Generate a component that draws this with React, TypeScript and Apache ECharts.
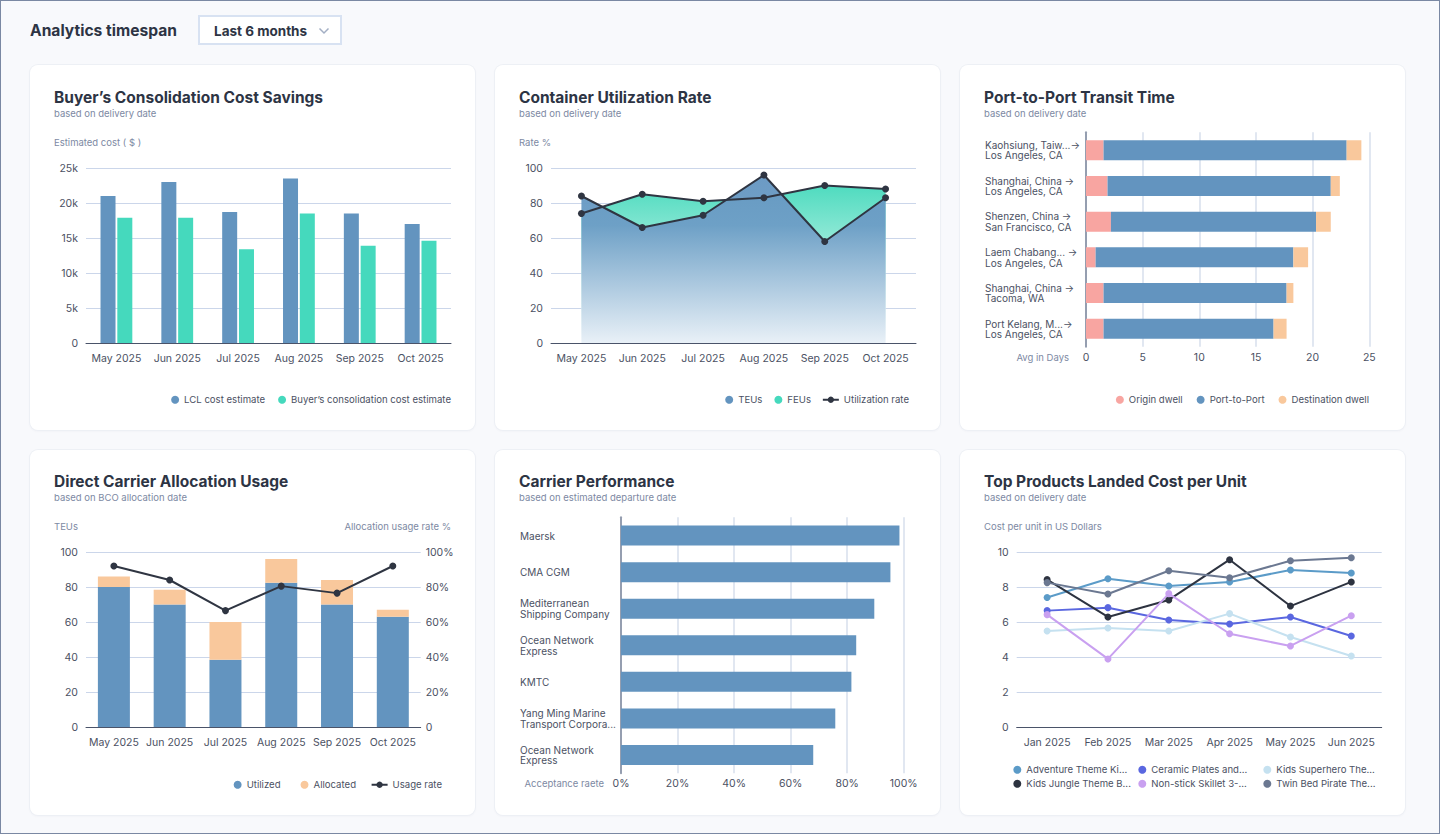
import React, { useEffect, useRef } from "react";
import * as echarts from "echarts";

const FONT = "Inter, 'Noto Sans', sans-serif";
const BLUE = "#6394bf";
const TEAL = "#45d9bd";
const PEACH = "#f9c89c";
const PINK = "#f8a5a1";
const DARK = "#2f3542";
const TITLE_C = "#2d3444";
const SUB_C = "#7d89a3";
const LABEL_C = "#4b5163";
const SPLIT_C = "#cbd6ea";
const AXIS_C = "#4a5369";
const VGRID_C = "#e1e7f1";
const CAT_AXIS_C = "#959eb0";

// Card 1
const months6 = ["May 2025", "Jun 2025", "Jul 2025", "Aug 2025", "Sep 2025", "Oct 2025"];
const lclCost = [21000, 23000, 18700, 23500, 18500, 17000];
const buyerCost = [17900, 17900, 13400, 18500, 13900, 14600];

// Card 2
const teuRate = [84, 66, 73, 96, 58, 83];
const feuRate = [74, 85, 81, 83, 90, 88];

// Card 3
const routes = [
  "Kaohsiung, Taiw...→\nLos Angeles, CA",
  "Shanghai, China →\nLos Angeles, CA",
  "Shenzen, China →\nSan Francisco, CA",
  "Laem Chabang... →\nLos Angeles, CA",
  "Shanghai, China →\nTacoma, WA",
  "Port Kelang, M...→\nLos Angeles, CA",
];
const originDwell = [1.55, 1.9, 2.2, 0.85, 1.55, 1.55];
const portToPort = [21.45, 19.7, 18.1, 17.45, 16.15, 15.0];
const destDwell = [1.3, 0.8, 1.3, 1.3, 0.6, 1.15];

// Card 4
const utilized = [80, 70, 38.5, 82.5, 70, 63];
const allocated = [6, 8.5, 21.5, 13.5, 14, 4];
const usageRate = [92, 84, 66.5, 80.5, 76.5, 92];

// Card 5
const carriers = [
  "Maersk",
  "CMA CGM",
  "Mediterranean\nShipping Company",
  "Ocean Network\nExpress",
  "KMTC",
  "Yang Ming Marine\nTransport Corpora...",
  "Ocean Network\nExpress",
];
const acceptance = [98.5, 95.3, 89.6, 83.2, 81.5, 75.8, 68.0];

// Card 6
const monthsH1 = ["Jan 2025", "Feb 2025", "Mar 2025", "Apr 2025", "May 2025", "Jun 2025"];
const productNames = [
  "Adventure Theme Ki...",
  "Ceramic Plates and...",
  "Kids Superhero The...",
  "Kids Jungle Theme B...",
  "Non-stick Skillet 3-...",
  "Twin Bed Pirate The...",
];
const productColors = ["#5b9bc8", "#5a67e0", "#c5e1f0", "#2d3340", "#c9a0f0", "#6b7891"];
const adventureCost = [7.4, 8.47, 8.06, 8.29, 8.97, 8.8];
const ceramicCost = [6.65, 6.82, 6.11, 5.89, 6.29, 5.2];
const superheroCost = [5.49, 5.66, 5.49, 6.48, 5.14, 4.06];
const jungleCost = [8.42, 6.29, 7.26, 9.56, 6.91, 8.29];
const skilletCost = [6.42, 3.89, 7.62, 5.33, 4.63, 6.36];
const pirateCost = [8.25, 7.6, 8.93, 8.53, 9.5, 9.67];
const productCosts = [adventureCost, ceramicCost, superheroCost, jungleCost, skilletCost, pirateCost];

const TITLE_SIZE = 15.5;
const SUB_SIZE = 9.5;
const LBL_SIZE = 10.5;
const LEG_SIZE = 9.6;

const heads = (t: string, s: string, dy: number, extra: any[] = []) => [
  {
    text: t, left: 24, top: 22 + dy, padding: 0,
    textStyle: { fontFamily: FONT, fontSize: TITLE_SIZE, fontWeight: 700, color: TITLE_C, lineHeight: 20 },
  },
  {
    text: s, left: 24, top: 42.7 + dy, padding: 0,
    textStyle: { fontFamily: FONT, fontSize: SUB_SIZE, fontWeight: 400, color: SUB_C, lineHeight: 12 },
  },
  ...extra,
];

const caption = (text: string, pos: any) => ({
  text, padding: 0, ...pos,
  textStyle: { fontFamily: FONT, fontSize: SUB_SIZE, fontWeight: 400, color: SUB_C, lineHeight: 12 },
});

const legendText = { fontFamily: FONT, fontSize: LEG_SIZE, color: LABEL_C, lineHeight: 12 };
const axisLabel = { color: LABEL_C, fontSize: LBL_SIZE, fontFamily: FONT };

const opt1 = {
  animation: false,
  textStyle: { fontFamily: FONT },
  title: heads("Buyer’s Consolidation Cost Savings", "based on delivery date", 0, [
    caption("Estimated cost ( $ )", { left: 24, top: 71.7 }),
  ]),
  grid: { left: 56, right: 24, top: 103, bottom: 87 },
  legend: {
    right: 24, top: 328.7, padding: 0, itemWidth: 8, itemHeight: 8, itemGap: 13, icon: "circle",
    textStyle: legendText,
    data: ["LCL cost estimate", "Buyer’s consolidation cost estimate"],
  },
  xAxis: {
    type: "category", data: months6,
    axisLine: { lineStyle: { color: AXIS_C } }, axisTick: { show: false },
    axisLabel: { ...axisLabel, margin: 10, interval: 0 },
  },
  yAxis: {
    type: "value", min: 0, max: 25000, interval: 5000,
    axisLabel: { ...axisLabel, margin: 8, formatter: (v: number) => (v === 0 ? "0" : v / 1000 + "k") },
    splitLine: { lineStyle: { color: SPLIT_C } },
  },
  series: [
    { type: "bar", name: "LCL cost estimate", data: lclCost, barWidth: 15, barGap: "12%", itemStyle: { color: BLUE } },
    { type: "bar", name: "Buyer’s consolidation cost estimate", data: buyerCost, barWidth: 15, itemStyle: { color: TEAL } },
  ],
};

const opt2 = {
  animation: false,
  textStyle: { fontFamily: FONT },
  title: heads("Container Utilization Rate", "based on delivery date", 0, [caption("Rate %", { left: 24, top: 71.7 })]),
  grid: { left: 56, right: 24, top: 103, bottom: 87 },
  legend: [
    {
      right: 129, top: 328.7, padding: 0, itemWidth: 8, itemHeight: 8, itemGap: 12, icon: "circle",
      textStyle: legendText,
      data: [
        { name: "TEUs", itemStyle: { color: BLUE } },
        { name: "FEUs", itemStyle: { color: TEAL } },
      ],
    },
    {
      right: 31, top: 328.7, padding: 0, itemWidth: 16, itemHeight: 8,
      textStyle: legendText, data: ["Utilization rate"],
    },
  ],
  xAxis: {
    type: "category", data: months6, boundaryGap: true,
    axisLine: { lineStyle: { color: AXIS_C } }, axisTick: { show: false },
    axisLabel: { ...axisLabel, margin: 10, interval: 0 },
  },
  yAxis: {
    type: "value", min: 0, max: 100, interval: 20,
    axisLabel: { ...axisLabel, margin: 8 },
    splitLine: { lineStyle: { color: SPLIT_C } },
  },
  series: [
    {
      type: "line", name: "FEUs", data: feuRate, z: 1, showSymbol: false,
      itemStyle: { color: TEAL }, lineStyle: { width: 0 },
      areaStyle: {
        opacity: 1,
        color: new echarts.graphic.LinearGradient(0, 0, 0, 1, [
          { offset: 0, color: "#4fdbbf" },
          { offset: 0.6, color: "#c2f3e8" },
          { offset: 1, color: "#ffffff" },
        ]),
      },
    },
    {
      type: "line", name: "TEUs", data: teuRate, z: 2, showSymbol: false,
      itemStyle: { color: BLUE }, lineStyle: { width: 0 },
      areaStyle: {
        opacity: 0.97,
        color: new echarts.graphic.LinearGradient(0, 0, 0, 1, [
          { offset: 0, color: "#6797c2" },
          { offset: 0.3, color: "#6d9ec6" },
          { offset: 1, color: "#e8f0f7" },
        ]),
      },
    },
    {
      type: "line", name: "Utilization rate", data: teuRate, z: 3, symbol: "circle", symbolSize: 7,
      itemStyle: { color: DARK }, lineStyle: { color: DARK, width: 2 },
    },
    {
      type: "line", name: "Utilization rate", data: feuRate, z: 3, symbol: "circle", symbolSize: 7,
      itemStyle: { color: DARK }, lineStyle: { color: DARK, width: 2 },
    },
  ],
};

const opt3 = {
  animation: false,
  textStyle: { fontFamily: FONT },
  title: heads("Port-to-Port Transit Time", "based on delivery date", 0, [
    caption("Avg in Days", { right: 336, top: 286.7 }),
  ]),
  grid: { left: 126, right: 35.7, top: 67.3, bottom: 83.3 },
  legend: {
    right: 36, top: 328.7, padding: 0, itemWidth: 8, itemHeight: 8, itemGap: 14, icon: "circle",
    textStyle: legendText,
    data: ["Origin dwell", "Port-to-Port", "Destination dwell"],
  },
  xAxis: {
    type: "value", min: 0, max: 25, interval: 5,
    axisLine: { show: false }, axisTick: { show: false },
    axisLabel: { ...axisLabel, margin: 5 },
    splitLine: { lineStyle: { color: VGRID_C, width: 2 } },
  },
  yAxis: {
    type: "category", data: routes, inverse: true,
    axisLine: { lineStyle: { color: CAT_AXIS_C, width: 2 } }, axisTick: { show: false },
    axisLabel: { color: LABEL_C, fontSize: 10, fontFamily: FONT, lineHeight: 10.5, align: "left", margin: 101, interval: 0 },
  },
  series: [
    { type: "bar", name: "Origin dwell", stack: "t", data: originDwell, barWidth: 20, itemStyle: { color: PINK } },
    { type: "bar", name: "Port-to-Port", stack: "t", data: portToPort, barWidth: 20, itemStyle: { color: BLUE } },
    { type: "bar", name: "Destination dwell", stack: "t", data: destDwell, barWidth: 20, itemStyle: { color: PEACH } },
  ],
};

const opt4 = {
  animation: false,
  textStyle: { fontFamily: FONT },
  title: heads("Direct Carrier Allocation Usage", "based on BCO allocation date", -1, [
    caption("TEUs", { left: 24, top: 70.7 }),
    caption("Allocation usage rate %", { right: 24, top: 70.7 }),
  ]),
  grid: { left: 56, right: 54.3, top: 102, bottom: 88 },
  legend: [
    {
      right: 119, top: 328.7, padding: 0, itemWidth: 8, itemHeight: 8, itemGap: 20, icon: "circle",
      textStyle: legendText, data: ["Utilized", "Allocated"],
    },
    {
      right: 33, top: 328.7, padding: 0, itemWidth: 16, itemHeight: 8,
      textStyle: legendText, data: ["Usage rate"],
    },
  ],
  xAxis: {
    type: "category", data: months6,
    axisLine: { lineStyle: { color: AXIS_C } }, axisTick: { show: false },
    axisLabel: { ...axisLabel, margin: 10, interval: 0 },
  },
  yAxis: [
    {
      type: "value", min: 0, max: 100, interval: 20,
      axisLabel: { ...axisLabel, margin: 8 },
      splitLine: { lineStyle: { color: SPLIT_C } },
    },
    {
      type: "value", min: 0, max: 100, interval: 20, position: "right",
      axisLabel: { ...axisLabel, margin: 5, formatter: (v: number) => (v === 0 ? "0" : v + "%") },
      splitLine: { show: false }, axisLine: { show: false }, axisTick: { show: false },
    },
  ],
  series: [
    { type: "bar", name: "Utilized", stack: "a", data: utilized, barWidth: 32, itemStyle: { color: BLUE } },
    { type: "bar", name: "Allocated", stack: "a", data: allocated, barWidth: 32, itemStyle: { color: PEACH } },
    {
      type: "line", name: "Usage rate", yAxisIndex: 1, data: usageRate, symbol: "circle", symbolSize: 7,
      itemStyle: { color: DARK }, lineStyle: { color: DARK, width: 2 }, z: 5,
    },
  ],
};

const opt5 = {
  animation: false,
  textStyle: { fontFamily: FONT },
  title: heads("Carrier Performance", "based on estimated departure date", -1, [
    caption("Acceptance raete", { right: 336, top: 327.7 }),
  ]),
  grid: { left: 126, right: 36.3, top: 67.3, bottom: 41.7 },
  xAxis: {
    type: "value", min: 0, max: 100, interval: 20,
    axisLine: { show: false }, axisTick: { show: false },
    axisLabel: { ...axisLabel, margin: 5, formatter: "{value}%" },
    splitLine: { lineStyle: { color: VGRID_C, width: 2 } },
  },
  yAxis: {
    type: "category", data: carriers, inverse: true,
    axisLine: { lineStyle: { color: CAT_AXIS_C, width: 2 } }, axisTick: { show: false },
    axisLabel: { color: LABEL_C, fontSize: 10, fontFamily: FONT, lineHeight: 10.5, align: "left", margin: 101, interval: 0 },
  },
  series: [
    { type: "bar", name: "Acceptance rate", data: acceptance, barWidth: 20, itemStyle: { color: BLUE } },
  ],
};

const opt6 = {
  animation: false,
  textStyle: { fontFamily: FONT },
  title: heads("Top Products Landed Cost per Unit", "based on delivery date", -1, [
    caption("Cost per unit in US Dollars", { left: 24, top: 70.7 }),
  ]),
  grid: { left: 56.7, right: 23.3, top: 102, bottom: 88 },
  legend: [
    {
      left: 53.3, top: 313.7, padding: 0, itemWidth: 8, itemHeight: 8, itemGap: 5, icon: "circle",
      textStyle: { ...legendText, width: 107 }, data: productNames.slice(0, 3),
    },
    {
      left: 53.3, top: 327.7, padding: 0, itemWidth: 8, itemHeight: 8, itemGap: 5, icon: "circle",
      textStyle: { ...legendText, width: 107 }, data: productNames.slice(3, 6),
    },
  ],
  xAxis: {
    type: "category", data: monthsH1, boundaryGap: true,
    axisLine: { lineStyle: { color: AXIS_C } }, axisTick: { show: false },
    axisLabel: { ...axisLabel, margin: 10, interval: 0 },
  },
  yAxis: {
    type: "value", min: 0, max: 10, interval: 2,
    axisLabel: { ...axisLabel, margin: 8 },
    splitLine: { lineStyle: { color: SPLIT_C } },
  },
  series: productNames.map((n, i) => ({
    type: "line", name: n, data: productCosts[i], symbol: "circle", symbolSize: 7,
    itemStyle: { color: productColors[i] }, lineStyle: { color: productColors[i], width: 2 },
  })),
};

function Card({ left, top, option }: { left: number; top: number; option: any }) {
  const ref = useRef<HTMLDivElement>(null);
  useEffect(() => {
    const chart = echarts.init(ref.current!, null, { renderer: "svg" });
    chart.setOption(option);
    return () => chart.dispose();
  }, []);
  return (
    <div
      ref={ref}
      style={{
        position: "absolute", left, top, width: 445, height: 365, background: "#ffffff",
        borderRadius: 8, overflow: "hidden",
        boxShadow: "0 0 0 1px #edf0f5, 0 1px 3px rgba(30,40,70,0.05)",
      }}
    />
  );
}

export default function App() {
  return (
    <div
      style={{
        position: "fixed", left: 0, top: 0, width: 1440, height: 834, background: "#f8f9fc",
        boxShadow: "inset 0 0 0 1px #7a88a3", fontFamily: FONT, overflow: "hidden",
      }}
    >
      <div style={{ position: "absolute", left: 30, top: 21, lineHeight: "20px", fontSize: 15.6, fontWeight: 700, color: TITLE_C, whiteSpace: "nowrap" }}>
        Analytics timespan
      </div>
      <div
        style={{
          position: "absolute", left: 198, top: 15, width: 144, height: 30, boxSizing: "border-box",
          border: "2px solid #d8e2f2", background: "#ffffff",
        }}
      >
        <span style={{ position: "absolute", left: 14, top: 6, lineHeight: "16px", fontSize: 13.5, fontWeight: 700, color: TITLE_C, whiteSpace: "nowrap" }}>
          Last 6 months
        </span>
        <svg style={{ position: "absolute", left: 118, top: 10 }} width="12" height="8">
          <polyline points="1.5,1.5 6,6 10.5,1.5" fill="none" stroke="#a3afc4" strokeWidth="1.5" />
        </svg>
      </div>
      <Card left={30} top={65} option={opt1} />
      <Card left={495} top={65} option={opt2} />
      <Card left={960} top={65} option={opt3} />
      <Card left={30} top={450} option={opt4} />
      <Card left={495} top={450} option={opt5} />
      <Card left={960} top={450} option={opt6} />
    </div>
  );
}
